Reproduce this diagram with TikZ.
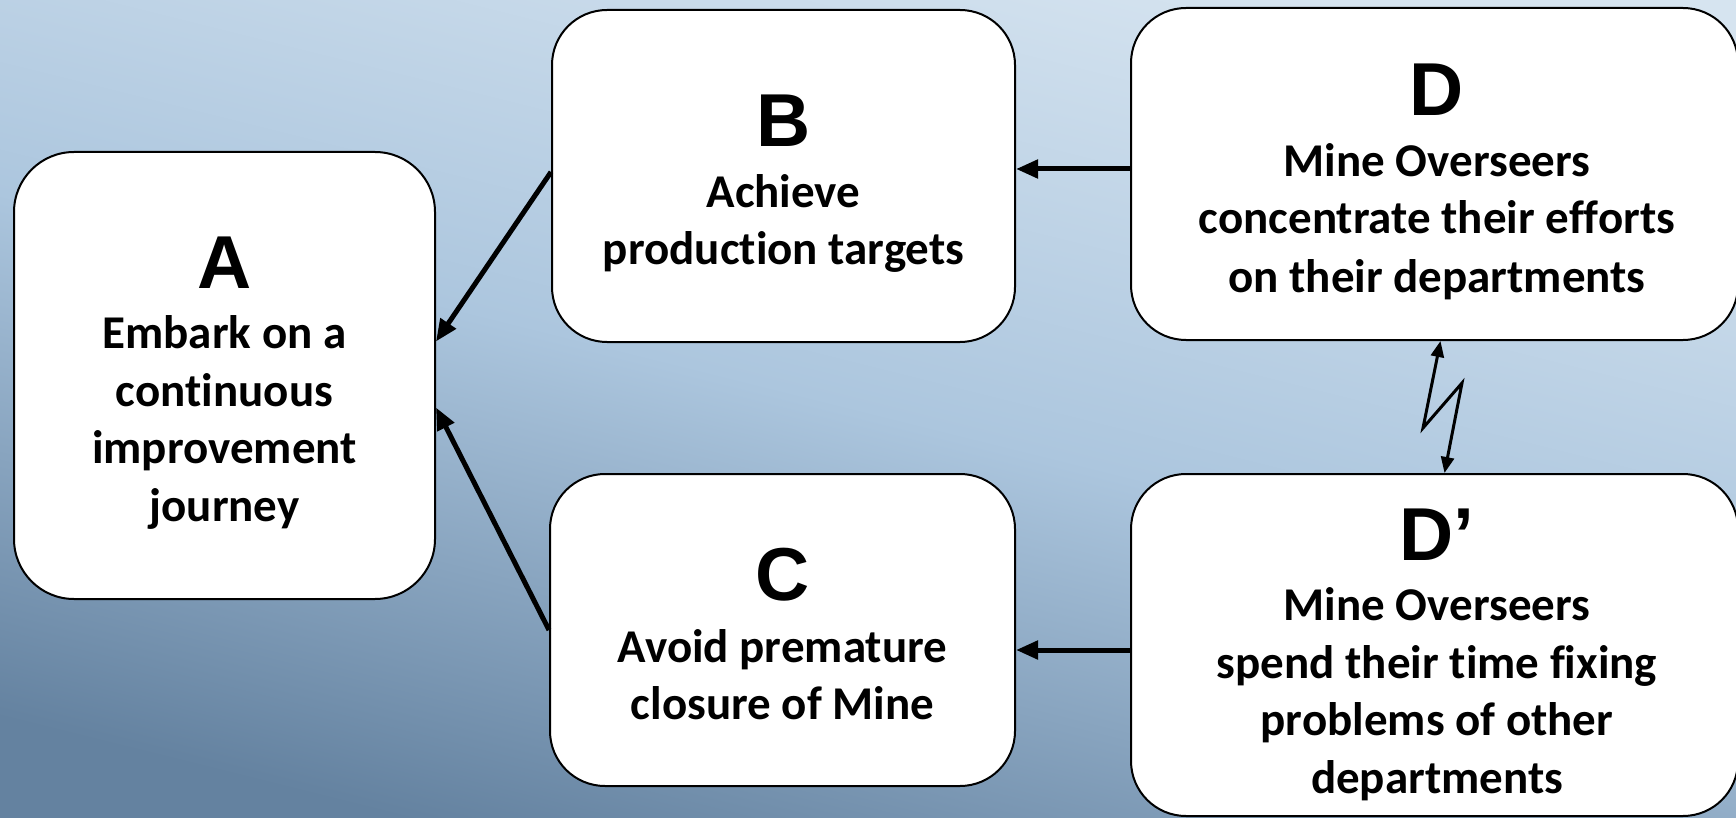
\documentclass[tikz,border=0pt]{standalone}
\usepackage{fontspec}
\setmainfont{Carlito}[Ligatures=NoCommon]
\newfontfamily\letterfont{Liberation Sans}
\usetikzlibrary{arrows.meta,calc}
\definecolor{bgtop}{RGB}{214,228,240}
\definecolor{bgmid}{RGB}{172,198,222}
\definecolor{bgbot}{RGB}{100,130,160}
\begin{document}
\begin{tikzpicture}[x=1pt,y=-1pt,
  box/.style={draw=black,line width=2pt,fill=white,rounded corners=55pt,inner sep=0pt},
  letter/.style={anchor=base,inner sep=0pt,font=\letterfont\bfseries\fontsize{75}{80}\selectfont},
  txt/.style={anchor=base,inner sep=0pt,font=\bfseries\fontsize{47}{57}\selectfont},
  arr/.style={line width=5pt,-{Triangle[length=22pt,width=18pt]}},
  zig/.style={line width=3pt,{Triangle[length=16pt,width=13pt]}-{Triangle[length=16pt,width=13pt]}}]
\useasboundingbox (0,0) rectangle (1736,818);
% background
\shade[top color=bgtop, bottom color=bgbot, middle color=bgmid, shading angle=-14] (-10,-10) rectangle (1746,828);
% boxes
\node[box, minimum width=421pt, minimum height=447pt, rounded corners=60pt] (A) at (224.5,375.5) {};
\node[box, minimum width=463pt, minimum height=332pt] (B) at (783.5,176) {};
\node[box, minimum width=465pt, minimum height=312pt] (C) at (782.5,630) {};
\node[box, minimum width=607pt, minimum height=332pt] (D) at (1434.5,174) {};
\node[box, minimum width=607pt, minimum height=342pt] (Dp) at (1434.5,645) {};
% texts A
\node[letter] (At) at (224.5,288) {A};
\node[txt] (A1) at (224.5,348) {Embark on a};
\node[txt] (A2) at (224.5,406) {continuous};
\node[txt] (A3) at (224.5,463) {improvement};
\node[txt] (A4) at (224.5,521) {journey};
% texts B
\node[letter] (Bt) at (783.5,147) {B};
\node[txt] (B1) at (783.5,208) {Achieve};
\node[txt] (B2) at (783.5,265) {production targets};
% texts C
\node[letter] (Ct) at (782.5,600) {C};
\node[txt] (C1) at (782.5,662) {Avoid premature};
\node[txt] (C2) at (782.5,719) {closure of Mine};
% texts D
\node[letter] (Dt) at (1437,116) {D};
\node[txt] (D1) at (1437,177) {Mine Overseers};
\node[txt] (D2) at (1437,234) {concentrate their efforts};
\node[txt] (D3) at (1437,292) {on their departments};
% texts D'
\node[letter] (Dpt) at (1437,560) {D’};
\node[txt] (Dp1) at (1437,620) {Mine Overseers};
\node[txt] (Dp2) at (1437,678) {spend their time fixing};
\node[txt] (Dp3) at (1437,735) {problems of other};
\node[txt] (Dp4) at (1437,793) {departments};
% connectors
\draw[arr] ([yshift=4pt]B.west) -- ([yshift=34pt]A.east);
\draw[arr] (C.west) -- ([yshift=-32pt]A.east);
\coordinate (ds) at ([yshift=5pt]D.west);
\draw[arr] (ds) -- (ds -| B.east);
\coordinate (dps) at ([yshift=-5pt]Dp.west);
\draw[arr] (dps) -- (dps -| C.east);
\coordinate (zt) at ([xshift=6pt]D.south);
\coordinate (zb) at ([xshift=10pt]Dp.north);
\coordinate (z1) at (1423,428);
\coordinate (z2) at (1462,383);
\draw[zig] (zt) -- (z1) -- (z2) -- (zb);
\end{tikzpicture}
\end{document}
